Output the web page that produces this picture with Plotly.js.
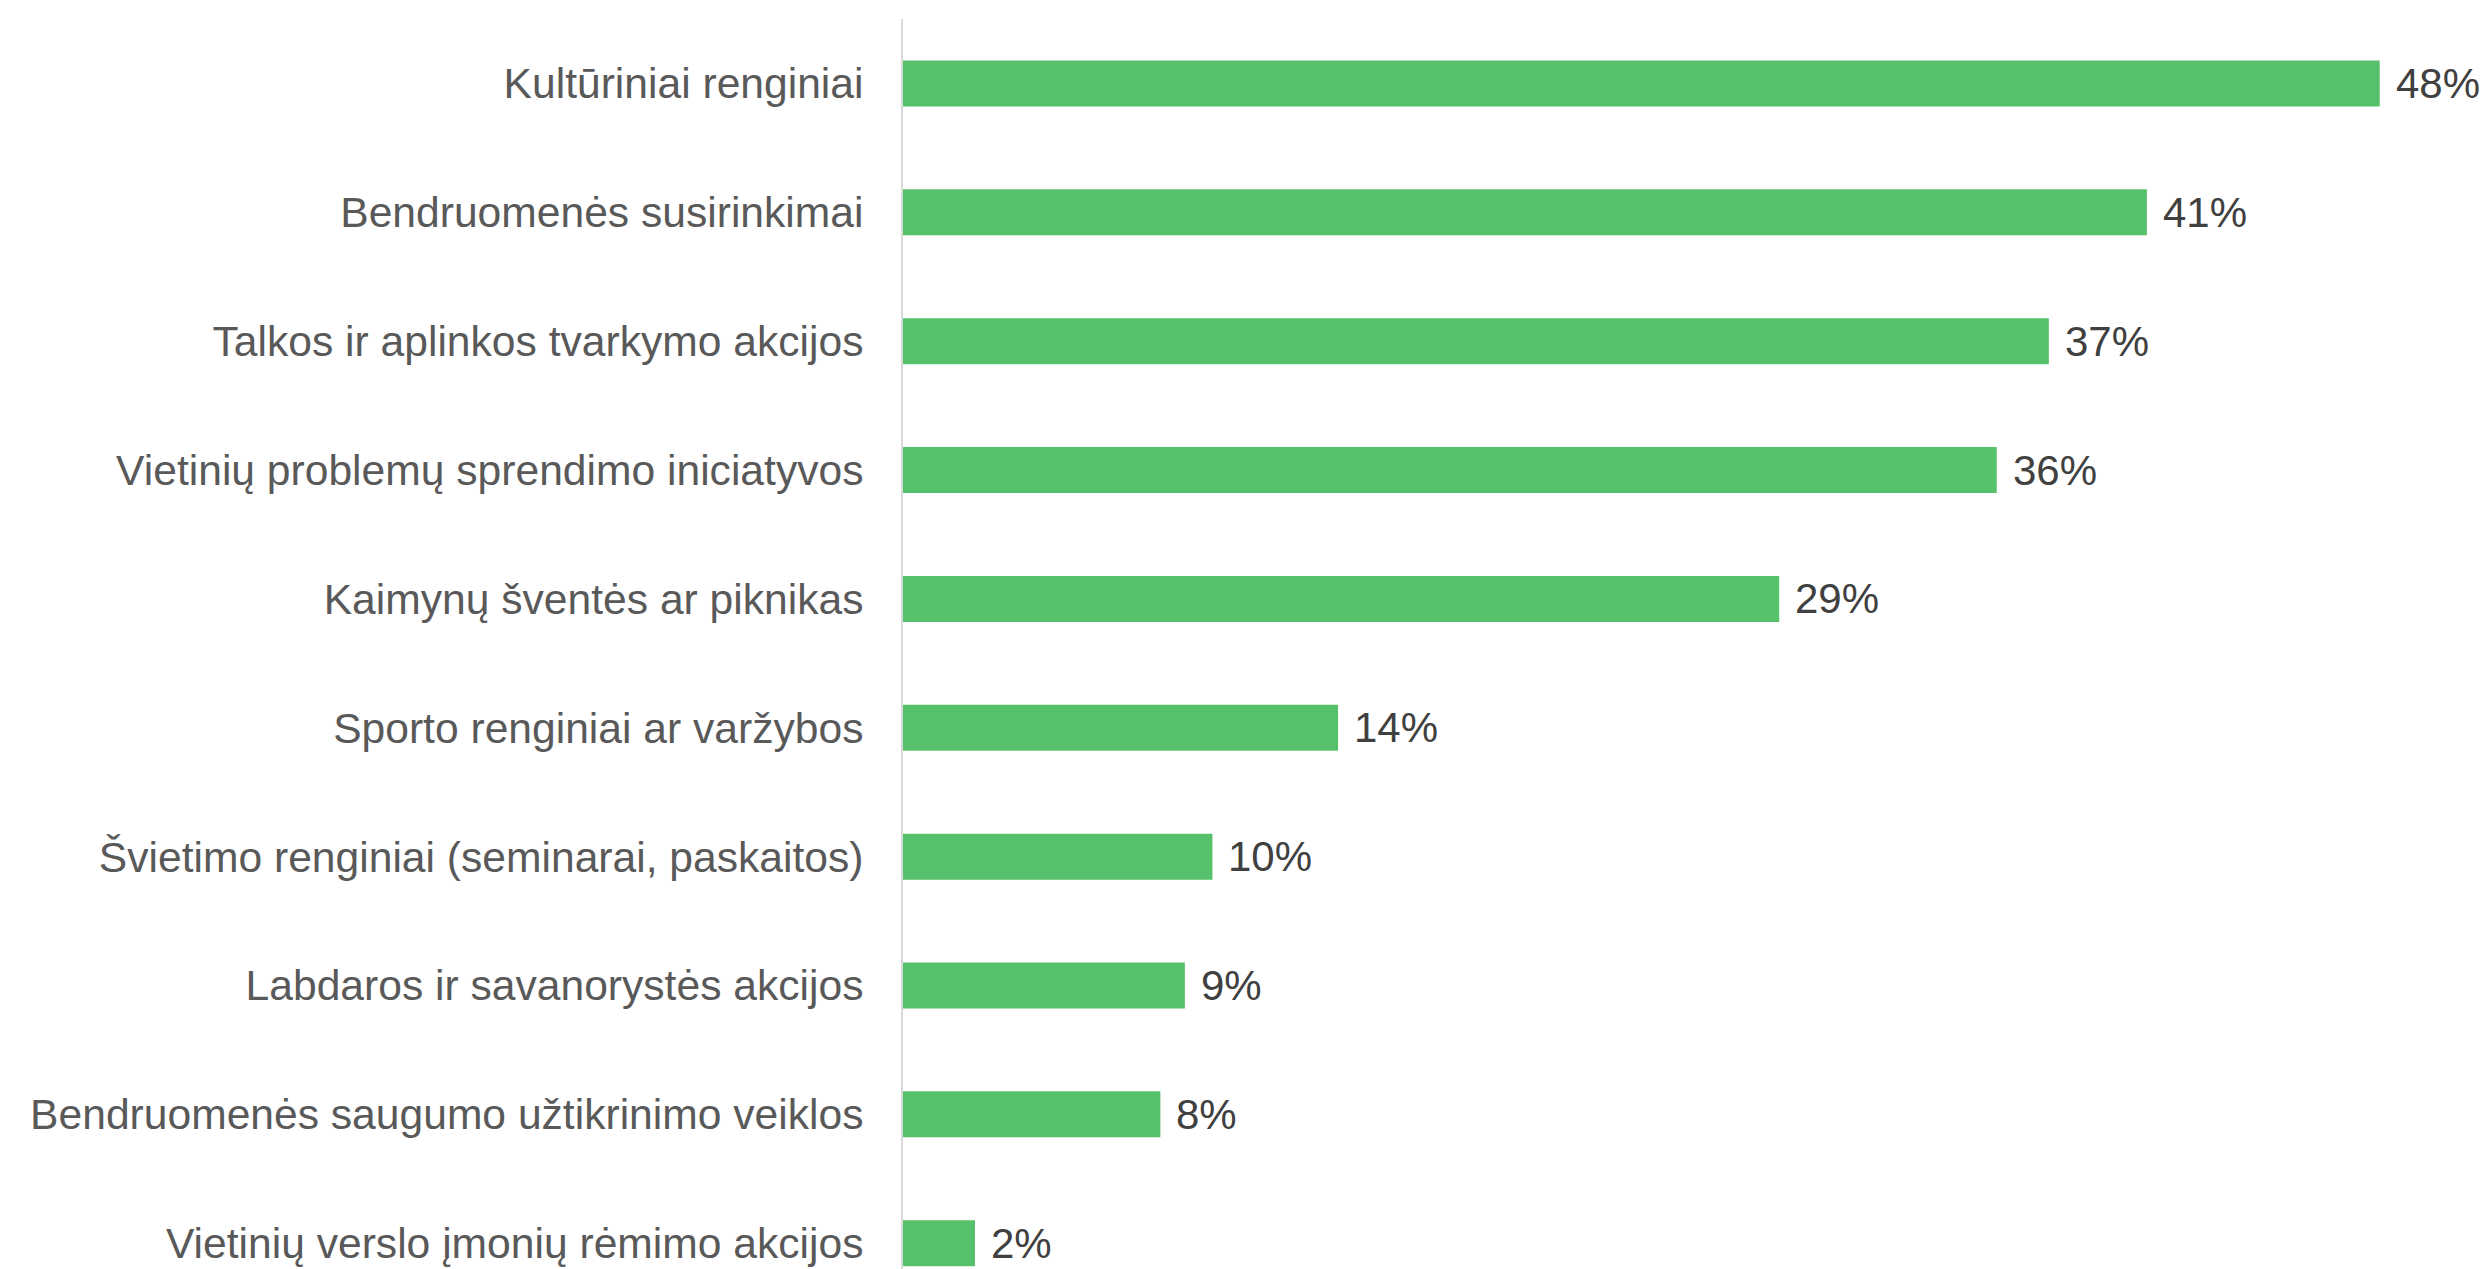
<!DOCTYPE html>
<html>
<head>
<meta charset="utf-8">
<script src="https://cdn.plot.ly/plotly-3.0.1.min.js"></script>
<style>html,body{margin:0;padding:0;background:#fff;}#chart{width:2490px;height:1269px;}</style>
</head>
<body>
<div id="chart"></div>
<script>
const categories = [
  "Kultūriniai renginiai",
  "Bendruomenės susirinkimai",
  "Talkos ir aplinkos tvarkymo akcijos",
  "Vietinių problemų sprendimo iniciatyvos",
  "Kaimynų šventės ar piknikas",
  "Sporto renginiai ar varžybos",
  "Švietimo renginiai (seminarai, paskaitos)",
  "Labdaros ir savanorystės akcijos",
  "Bendruomenės saugumo užtikrinimo veiklos",
  "Vietinių verslo įmonių rėmimo akcijos"
];
const values = [48.2, 40.6, 37.4, 35.7, 28.6, 14.2, 10.1, 9.2, 8.4, 2.35];
const valueLabels = ["48%", "41%", "37%", "36%", "29%", "14%", "10%", "9%", "8%", "2%"];

const trace = {
  type: "bar",
  orientation: "h",
  x: values,
  y: categories,
  marker: {color: "#56C16A"},
  hoverinfo: "none"
};

const annotations = categories.map((c, i) => ({
  x: values[i], y: c, xref: "x", yref: "y",
  text: valueLabels[i], showarrow: false,
  xanchor: "left", yanchor: "middle", xshift: 14,
  font: {family: "Liberation Sans, Arial, sans-serif", size: 42, color: "#404040"}
}));

const layout = {
  width: 2490, height: 1269,
  margin: {l: 903, r: 0, t: 19, b: 0, pad: 0},
  paper_bgcolor: "#ffffff", plot_bgcolor: "#ffffff",
  bargap: 0.643,
  showlegend: false,
  font: {family: "Liberation Sans, Arial, sans-serif", size: 42.6, color: "#595959"},
  xaxis: {range: [0, 51.8], visible: false, showgrid: false, zeroline: false, fixedrange: true},
  yaxis: {
    type: "category",
    range: [9.2, -0.5],
    showgrid: false, zeroline: false,
    showline: true, linecolor: "#d9d9d9", linewidth: 2,
    ticks: "", ticklabelstandoff: 29,
    tickfont: {family: "Liberation Sans, Arial, sans-serif", size: 42.6, color: "#595959"},
    fixedrange: true
  },
  annotations: annotations
};

Plotly.newPlot("chart", [trace], layout, {displayModeBar: false, staticPlot: true});
</script>
</body>
</html>
